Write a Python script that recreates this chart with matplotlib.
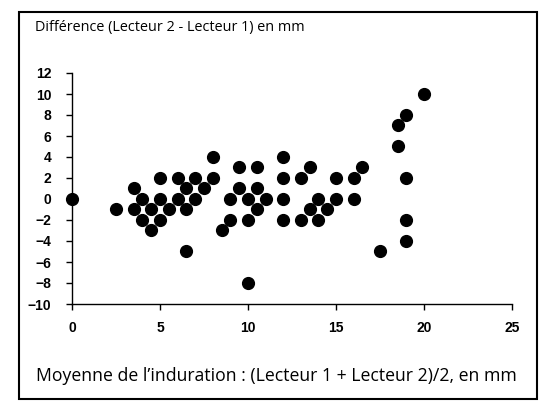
import matplotlib
matplotlib.use('Agg')
import matplotlib.pyplot as plt
from matplotlib.patches import Rectangle

# mean of the two readings (mm) and difference reader 2 - reader 1 (mm)
moyenne = [0, 2.5, 3.5, 3.5, 4, 4, 4.5, 4.5, 5, 5, 5, 5.5, 6, 6,
           6.5, 6.5, 6.5, 7, 7, 7.5, 8, 8, 8.5, 9, 9, 9.5, 9.5,
           10, 10, 10, 10.5, 10.5, 10.5, 11, 12, 12, 12, 12, 13, 13,
           13.5, 13.5, 14, 14, 14.5, 15, 15, 16, 16, 16.5, 17.5,
           18.5, 18.5, 19, 19, 19, 19, 20]
difference = [0, -1, 1, -1, 0, -2, -1, -3, 2, 0, -2, -1, 2, 0,
              1, -1, -5, 2, 0, 1, 4, 2, -3, 0, -2, 3, 1,
              0, -2, -8, 3, 1, -1, 0, 4, 2, 0, -2, 2, -2,
              3, -1, 0, -2, -1, 2, 0, 2, 0, 3, -5,
              7, 5, 8, 2, -2, -4, 10]

x_ticks = [0, 5, 10, 15, 20, 25]
y_ticks = [-10, -8, -6, -4, -2, 0, 2, 4, 6, 8, 10, 12]

W, H = 551, 416
fig = plt.figure(figsize=(W / 100, H / 100), dpi=100)
ax = fig.add_axes([72 / W, 1 - 304 / H, (512 - 72) / W, (304 - 73) / H])

ax.scatter(moyenne, difference, s=72, color='black', clip_on=False, zorder=3)

ax.set_xlim(0, 25)
ax.set_ylim(-10, 12)
ax.set_xticks(x_ticks)
ax.set_yticks(y_ticks)
ax.spines['top'].set_visible(False)
ax.spines['right'].set_visible(False)
for sp in ['left', 'bottom']:
    ax.spines[sp].set_linewidth(1.0)
ax.tick_params(axis='x', direction='out', length=4, width=1, pad=8)
ax.tick_params(axis='y', direction='out', length=4, width=1, pad=11)
for lab in ax.get_xticklabels() + ax.get_yticklabels():
    lab.set_fontfamily('Liberation Sans')
    lab.set_fontweight('bold')
    lab.set_fontsize(10)

# title and axis caption, left aligned inside the frame
fig.text(35 / W, 1 - 28 / H, 'Différence (Lecteur 2 - Lecteur 1) en mm',
         ha='left', va='center', fontsize=10.4, family='Open Sans')
fig.text(36 / W, 1 - 376 / H,
         'Moyenne de l\u2019induration : (Lecteur 1 + Lecteur 2)/2, en mm',
         ha='left', va='center', fontsize=12.7, family='Open Sans')

# outer frame
fig.patches.append(Rectangle((19 / W, 1 - 399 / H), (537 - 19) / W, (399 - 12) / H,
                             transform=fig.transFigure, fill=False,
                             edgecolor='black', linewidth=1.5))

fig.savefig('out.png', dpi=100)
